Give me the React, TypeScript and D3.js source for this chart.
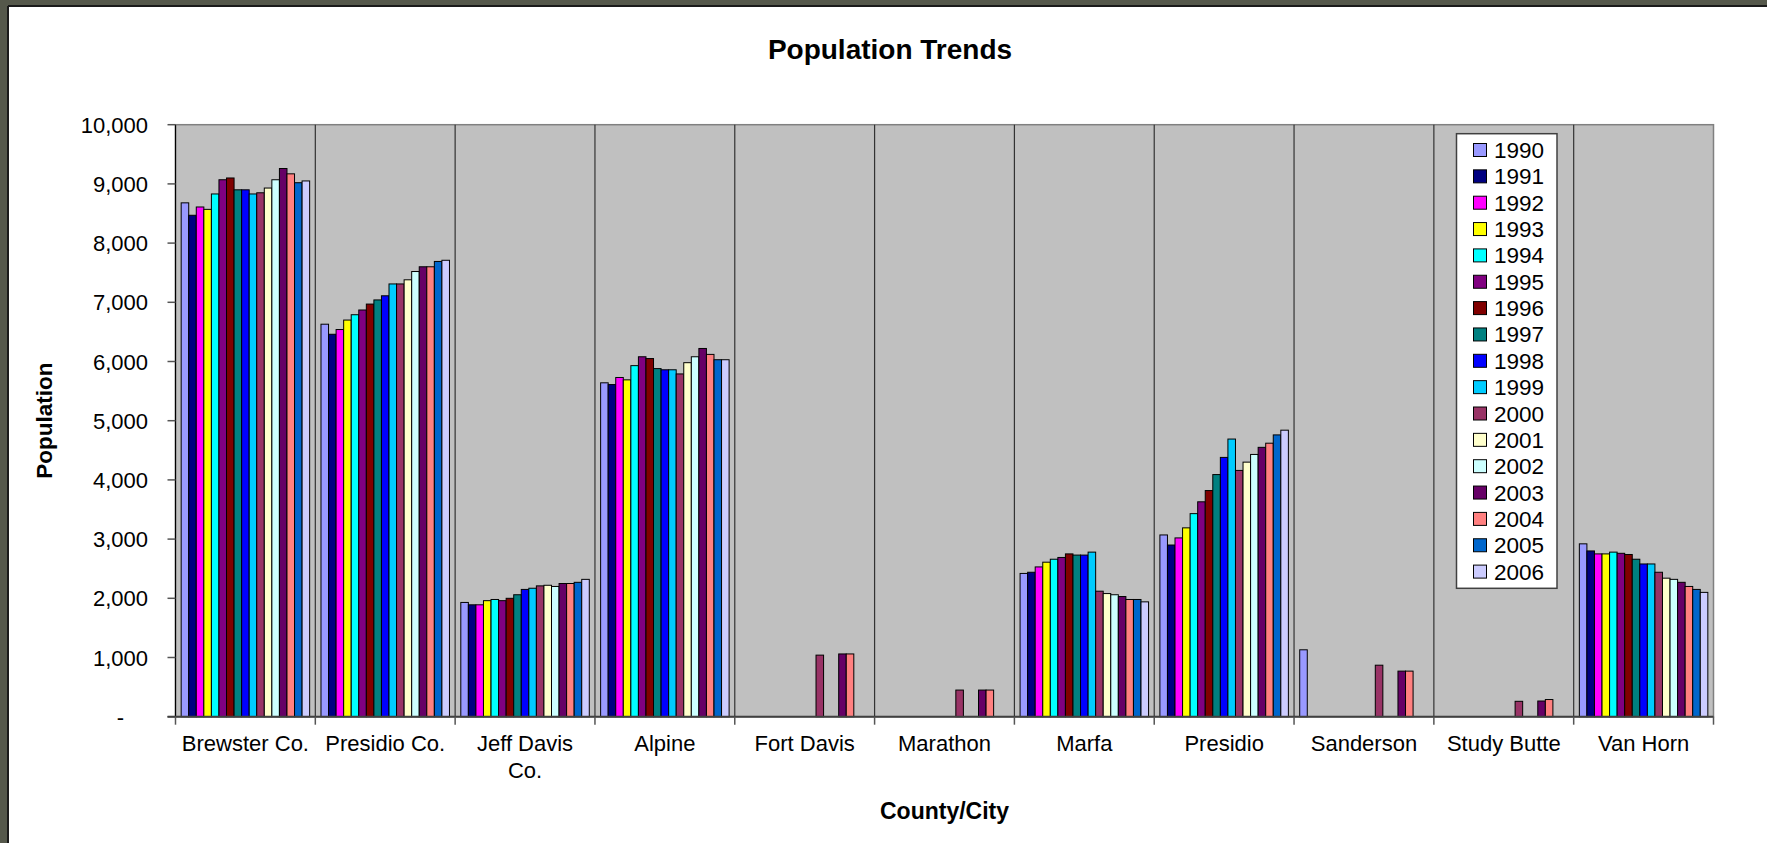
import * as d3 from 'd3'

const categories = ['Brewster Co.', 'Presidio Co.', 'Jeff Davis Co.', 'Alpine', 'Fort Davis', 'Marathon', 'Marfa', 'Presidio', 'Sanderson', 'Study Butte', 'Van Horn']
const years = ['1990', '1991', '1992', '1993', '1994', '1995', '1996', '1997', '1998', '1999', '2000', '2001', '2002', '2003', '2004', '2005', '2006']
const yearColors = ['#9999FF', '#000080', '#FF00FF', '#FFFF00', '#00FFFF', '#800080', '#800000', '#008080', '#0000FF', '#00CCFF', '#993366', '#FFFFCC', '#CCFFFF', '#660066', '#FF8080', '#0066CC', '#CCCCFF']

// population per place, one value per year (null = no data)
const brewster = [8680, 8470, 8610, 8570, 8830, 9070, 9100, 8900, 8900, 8830, 8850, 8930, 9070, 9260, 9170, 9020, 9050]
const presidioCo = [6630, 6460, 6540, 6700, 6790, 6870, 6970, 7040, 7110, 7310, 7310, 7380, 7520, 7600, 7600, 7690, 7710]
const jeffDavis = [1930, 1890, 1890, 1960, 1980, 1960, 2000, 2060, 2150, 2170, 2210, 2220, 2200, 2250, 2250, 2270, 2320]
const alpine = [5640, 5610, 5730, 5690, 5930, 6080, 6050, 5880, 5860, 5860, 5790, 5980, 6080, 6220, 6120, 6030, 6030]
const fortDavis = [null, null, null, null, null, null, null, null, null, null, 1040, null, null, 1060, 1060, null, null]
const marathon = [null, null, null, null, null, null, null, null, null, null, 450, null, null, 450, 450, null, null]
const marfa = [2420, 2440, 2530, 2610, 2660, 2690, 2750, 2730, 2730, 2780, 2120, 2080, 2060, 2030, 1980, 1980, 1940]
const presidio = [3070, 2900, 3020, 3190, 3430, 3630, 3820, 4090, 4380, 4690, 4160, 4300, 4430, 4550, 4620, 4760, 4840]
const sanderson = [1130, null, null, null, null, null, null, null, null, null, 870, null, null, 770, 770, null, null]
const studyButte = [null, null, null, null, null, null, null, null, null, null, 260, null, null, 265, 290, null, null]
const vanHorn = [2920, 2800, 2750, 2750, 2780, 2760, 2740, 2660, 2580, 2580, 2440, 2340, 2320, 2270, 2200, 2150, 2100]

const yTicks = [0, 1000, 2000, 3000, 4000, 5000, 6000, 7000, 8000, 9000, 10000]

const rows = [brewster, presidioCo, jeffDavis, alpine, fortDavis, marathon, marfa, presidio, sanderson, studyButte, vanHorn]

const FONT = '"Liberation Sans", Arial, sans-serif'

export default function App() {
  const width = 1767
  const height = 843
  const plot = { left: 175.5, right: 1713.5, top: 124.7, bottom: 716.7 }

  const x = d3.scaleBand<string>().domain(categories).range([plot.left, plot.right]).padding(0)
  const xi = d3.scaleBand<string>().domain(years).range([0, x.bandwidth()]).paddingInner(0).paddingOuter(0.75)
  const y = d3.scaleLinear().domain([0, 10000]).range([plot.bottom, plot.top])
  const fmt = d3.format(',')

  const bounds = categories.map(c => x(c)!).concat([plot.right])

  return (
    <svg width={width} height={height} style={{ position: 'absolute', left: 0, top: 0, display: 'block' }} fontFamily={FONT}>
      <rect x={0} y={0} width={width} height={height} fill="#55584b" />
      <rect x={8} y={6} width={width} height={height} fill="#ffffff" />
      <line x1={8} x2={width} y1={6} y2={6} stroke="#1a1a1a" strokeWidth={2} />
      <line x1={8} x2={8} y1={6} y2={height} stroke="#1a1a1a" strokeWidth={2} />

      <text x={890} y={59} textAnchor="middle" fontSize={28} fontWeight="bold">Population Trends</text>

      {/* plot area */}
      <rect x={plot.left} y={plot.top} width={plot.right - plot.left} height={plot.bottom - plot.top}
        fill="#C0C0C0" stroke="#808080" strokeWidth={1.5} />

      {/* category separators */}
      {bounds.slice(1, -1).map((bx, i) => (
        <line key={'g' + i} x1={bx} x2={bx} y1={plot.top} y2={plot.bottom} stroke="#333" strokeWidth={1.2} />
      ))}

      {/* bars */}
      {rows.map((vals, ci) => (
        <g key={categories[ci]} transform={`translate(${x(categories[ci])},0)`}>
          {vals.map((v, yi) => v == null ? null : (
            <rect key={yi} x={xi(years[yi])} y={y(v)} width={xi.bandwidth()} height={plot.bottom - y(v)}
              fill={yearColors[yi]} stroke="#000" strokeWidth={1} />
          ))}
        </g>
      ))}

      {/* y axis */}
      <line x1={plot.left} x2={plot.left} y1={plot.top} y2={plot.bottom} stroke="#000" strokeWidth={1.2} />
      {yTicks.map(t => (
        <g key={t}>
          <line x1={plot.left - 8} x2={plot.left} y1={y(t)} y2={y(t)} stroke="#555" strokeWidth={1.5} />
          <text x={t === 0 ? 124 : 148} y={y(t) + 8} textAnchor="end" fontSize={22}>{t === 0 ? '-' : fmt(t)}</text>
        </g>
      ))}

      {/* x axis */}
      <line x1={plot.left - 8} x2={plot.right} y1={plot.bottom} y2={plot.bottom} stroke="#404040" strokeWidth={2} />
      {bounds.map((bx, i) => (
        <line key={'t' + i} x1={bx} x2={bx} y1={plot.bottom} y2={plot.bottom + 8} stroke="#555" strokeWidth={1.5} />
      ))}
      {categories.map(c => {
        const cx = x(c)! + x.bandwidth() / 2
        const lines = c === 'Jeff Davis Co.' ? ['Jeff Davis', 'Co.'] : [c]
        return (
          <text key={c} x={cx} y={750.7} textAnchor="middle" fontSize={22}>
            {lines.map((l, i) => <tspan key={i} x={cx} dy={i === 0 ? 0 : 27.6}>{l}</tspan>)}
          </text>
        )
      })}

      <text x={(plot.left + plot.right) / 2} y={819} textAnchor="middle" fontSize={23} fontWeight="bold">County/City</text>
      <text transform={`translate(52,${(plot.top + plot.bottom) / 2}) rotate(-90)`} textAnchor="middle" fontSize={22.5} fontWeight="bold">Population</text>

      {/* legend */}
      <rect x={1456.5} y={133.7} width={100.5} height={454.6} fill="#fff" stroke="#404040" strokeWidth={1.5} />
      {years.map((yr, i) => {
        const cy = 150 + i * 26.35
        return (
          <g key={yr}>
            <rect x={1473.5} y={cy - 6.5} width={13} height={13} fill={yearColors[i]} stroke="#000" strokeWidth={1} />
            <text x={1494} y={cy + 8} fontSize={22.5}>{yr}</text>
          </g>
        )
      })}
    </svg>
  )
}
